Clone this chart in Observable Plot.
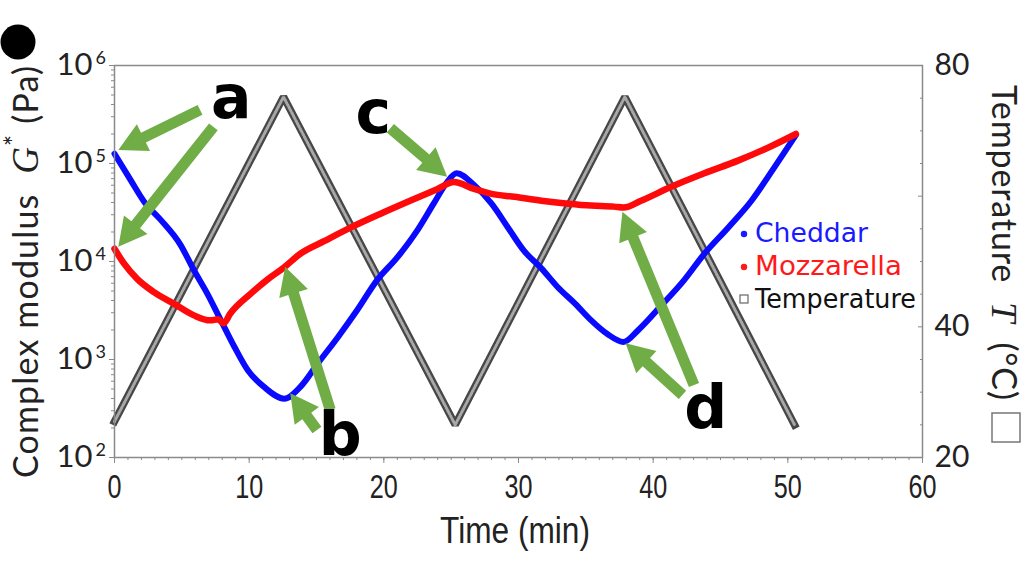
<!DOCTYPE html>
<html><head><meta charset="utf-8">
<script src="https://cdn.jsdelivr.net/npm/d3@7"></script>
<script src="https://cdn.jsdelivr.net/npm/@observablehq/plot@0.6"></script>
<style>body{margin:0;background:#fff} svg{display:block}</style>
</head><body><div id="chart"></div>
<script>
// ---- data ----
const cheddarTime = [0, 1.2, 2.2, 3.4, 4.9, 5.9, 6.9, 7.9, 8.9, 9.9, 11.1, 12.6, 13.8, 15.1, 16.6, 18.0, 19.5, 21.0, 22.5, 23.7, 24.7, 25.4, 26.7, 28.0, 29.2, 30.4, 31.7, 32.9, 34.2, 35.4, 36.6, 37.8, 38.9, 40.6, 42.3, 43.8, 45.6, 47.3, 49.0, 50.6];
const cheddarG = [125900, 67600, 40700, 26900, 14800, 8130, 4680, 2510, 1350, 776, 525, 398, 525, 912, 1700, 3160, 6460, 11000, 20900, 38900, 64600, 79400, 60300, 38900, 22400, 12900, 8510, 5500, 3720, 2510, 1820, 1510, 2000, 3550, 6460, 12000, 22400, 41700, 91200, 195000];
const mozzTime = [0, 0.7, 1.7, 2.9, 4.4, 5.9, 7.1, 7.7, 8.1, 8.6, 10.1, 11.4, 12.5, 13.8, 15.6, 17.6, 19.8, 22.3, 24.0, 25.2, 26.7, 28.0, 29.7, 31.7, 33.7, 35.4, 37.1, 37.8, 39.1, 41.3, 43.8, 46.3, 48.8, 50.6];
const mozzG = [13500, 9550, 6610, 4900, 3720, 2820, 2510, 2570, 2340, 2950, 4680, 6610, 8510, 12000, 16200, 22400, 30900, 43700, 55000, 64600, 55000, 49000, 45700, 41700, 38900, 37200, 36300, 35500, 41700, 57500, 79400, 107000, 151000, 200000];
const tempTime = [0, 12.55, 25.3, 37.9, 50.5];
const tempC = [25.5, 75.2, 25, 75.2, 25];

const xTicks = [0, 10, 20, 30, 40, 50, 60];
const yTicks = [1e2, 1e3, 1e4, 1e5, 1e6];
const yTickExp = ["2", "3", "4", "5", "6"];
const tTicks = [20, 40, 60, 80];
const tMinor = [25, 30, 35, 45, 50, 55, 65, 70, 75];

const legendLabels = ["Cheddar", "Mozzarella", "Temperature"];
const legendColors = ["#1a1aff", "#ff1a1a", "#111"];

// annotations (data coords)
const arrowTailT = [6.39, 7.38, 16.06, 15.07, 20.52, 43.07, 42.21];
const arrowTailG = [3.48e5, 2.34e5, 302, 189, 2.26e5, 543, 430];
const arrowTipT  = [0.32, 0.32, 12.71, 13.09, 24.74, 37.75, 37.99];
const arrowTipG  = [1.36e5, 1.40e4, 8750, 447, 7.24e4, 3.18e4, 1445];
const letterText = ["a", "b", "c", "d"];
const letterT = [8.70, 16.80, 19.25, 43.94];
const letterG = [2.88e5, 105, 2.02e5, 198];

// ---- derived tables ----
const toG = T => 10 ** (2 + (T - 20) * 4 / 60);
const toT = g => 20 + (Math.log10(g) - 2) * 15;
const cheddar = cheddarTime.map((t, i) => ({t, g: cheddarG[i]}));
const mozz = mozzTime.map((t, i) => ({t, g: mozzG[i]}));
const temp = tempTime.map((t, i) => ({t, g: toG(tempC[i])}));
const xMinor = d3.range(0, 61, 1);
const yMinor = [];
for (let e = 2; e < 6; e++) for (let m = 2; m <= 9; m++) yMinor.push(m * 10 ** e);

const axisColor = "#8a8a8a";
const tickFont = "Lato, 'Open Sans', sans-serif";
const condFont = "'Liberation Sans', Arimo, sans-serif";

const chart = Plot.plot({
  width: 1024, height: 576,
  marginLeft: 114, marginRight: 102, marginTop: 65, marginBottom: 119,
  style: {fontFamily: tickFont, background: "white", overflow: "visible"},
  x: {domain: [0, 60]},
  y: {type: "log", domain: [1e2, 1e6]},
  marks: [
    // temperature (dense open squares look)
    Plot.line(temp, {x: "t", y: "g", stroke: "#474747", strokeWidth: 7.5, strokeLinejoin: "miter", strokeLinecap: "square"}),
    Plot.line(temp, {x: "t", y: "g", stroke: "#a8a8a8", strokeWidth: 3, strokeDasharray: "1.2,1.8", strokeLinejoin: "miter"}),
    Plot.line(cheddar, {x: "t", y: "g", stroke: "#0a0aff", strokeWidth: 6, curve: "monotone-x", strokeLinecap: "round"}),
    Plot.line(mozz, {x: "t", y: "g", stroke: "#ff0a0a", strokeWidth: 6.5, curve: "monotone-x", strokeLinecap: "round"}),
    Plot.frame({stroke: axisColor, strokeWidth: 1.5}),
    // x axis
    Plot.axisX(xMinor, {tickSize: 3, text: null, stroke: axisColor, label: null}),
    Plot.axisX(xTicks, {tickSize: 6, tickPadding: 10, stroke: axisColor, fontSize: 34, fontFamily: condFont, fill: "#222", label: null}),
    // left axis
    Plot.axisY(yMinor, {tickSize: 3, text: null, stroke: axisColor, label: null}),
    Plot.axisY(yTicks, {tickSize: 5, text: null, stroke: axisColor, label: null}),
    Plot.text(yTicks, {y: d => d, text: () => "10", frameAnchor: "left", dx: -22, textAnchor: "end", fontSize: 31, fill: "#222"}),
    Plot.text(yTicks, {y: d => d, text: (d, i) => yTickExp[i], frameAnchor: "left", dx: -19, dy: -2, textAnchor: "start", lineAnchor: "bottom", fontSize: 18, fill: "#222"}),
    // right axis (temperature)
    Plot.axisY(tMinor.map(toG), {anchor: "right", tickSize: -3, text: null, stroke: axisColor, label: null}),
    Plot.axisY(tTicks.map(toG), {anchor: "right", tickSize: -5, text: null, stroke: axisColor, label: null}),
    Plot.axisY(tTicks.map(toG), {anchor: "right", tickSize: 0, tickPadding: 12, tickFormat: g => Math.round(toT(g)), fontSize: 30, fill: "#222", label: null})
  ]
});
document.getElementById("chart").appendChild(chart);

// condensed look for x tick labels
d3.select(chart).selectAll('[aria-label="x-axis tick label"] text').each(function () {
  const w = this.getComputedTextLength();
  this.setAttribute("textLength", w * 0.74);
  this.setAttribute("lengthAdjust", "spacingAndGlyphs");
});

// ---- annotations through the plot's scales ----
const sx = chart.scale("x"), sy = chart.scale("y");
const X = v => sx.apply(v), Y = v => sy.apply(v);
const svg = d3.select(chart);
const green = "#70ad47";
const ann = svg.append("g");
function arrowPath(x1, y1, x2, y2) {
  const w = 5.5, hw = 15, hl = 28;
  const dx = x2 - x1, dy = y2 - y1, L = Math.hypot(dx, dy);
  const ux = dx / L, uy = dy / L, nx = -uy, ny = ux;
  const bx = x2 - ux * hl, by = y2 - uy * hl;
  const p = [[x1 + nx * w, y1 + ny * w], [bx + nx * w, by + ny * w], [bx + nx * hw, by + ny * hw], [x2, y2],
             [bx - nx * hw, by - ny * hw], [bx - nx * w, by - ny * w], [x1 - nx * w, y1 - ny * w]];
  return "M" + p.map(q => q.join(",")).join("L") + "Z";
}
arrowTailT.forEach((t, i) => {
  ann.append("path").attr("d", arrowPath(X(t), Y(arrowTailG[i]), X(arrowTipT[i]), Y(arrowTipG[i]))).attr("fill", green);
});
letterText.forEach((s, i) => {
  ann.append("text").attr("x", X(letterT[i])).attr("y", Y(letterG[i])).attr("text-anchor", "middle")
    .attr("font-family", "'DejaVu Sans', sans-serif").attr("font-weight", "bold").attr("font-size", 60).attr("fill", "#000").text(s);
});

// legend
const lg = svg.append("g").attr("font-family", "'DejaVu Sans', sans-serif").attr("font-size", 26).attr("text-anchor", "start");
legendLabels.forEach((s, i) => {
  const by = 242 + i * 33;
  if (i < 2) lg.append("circle").attr("cx", 744).attr("cy", by - 8).attr("r", 3.2).attr("fill", legendColors[i]);
  else lg.append("rect").attr("x", 740).attr("y", by - 13).attr("width", 8).attr("height", 8).attr("fill", "none").attr("stroke", "#666").attr("stroke-width", 1.2);
  lg.append("text").attr("x", 755).attr("y", by).attr("fill", legendColors[i]).attr("text-anchor", "start")
    .attr("textLength", [113, 147, 161][i]).attr("lengthAdjust", "spacingAndGlyphs").text(s);
});

// axis titles
const tt = svg.append("g").attr("fill", "#222");
tt.append("text").attr("x", 515).attr("y", 543).attr("text-anchor", "middle").attr("font-family", condFont).attr("font-size", 36)
  .attr("textLength", 150).attr("lengthAdjust", "spacingAndGlyphs").text("Time (min)");
const lt = tt.append("text").attr("transform", "translate(38,478) rotate(-90)").attr("text-anchor", "start").attr("font-family", tickFont).attr("font-size", 34)
  .attr("textLength", 412).attr("lengthAdjust", "spacing");
lt.append("tspan").text("Complex modulus  ");
lt.append("tspan").attr("font-family", "'Liberation Serif', serif").attr("font-style", "italic").attr("font-size", 37).text("G");
lt.append("tspan").attr("dy", -14).attr("font-size", 26).text("*");
lt.append("tspan").attr("dy", 14).text(" (Pa)");
tt.append("circle").attr("cx", 18).attr("cy", 42).attr("r", 17.5).attr("fill", "#000");
const rt = tt.append("text").attr("transform", "translate(992,85) rotate(90)").attr("text-anchor", "start").attr("font-family", tickFont).attr("font-size", 34)
  .attr("textLength", 315).attr("lengthAdjust", "spacing");
rt.append("tspan").text("Temperature  ");
rt.append("tspan").attr("font-family", "'Liberation Serif', serif").attr("font-style", "italic").attr("font-size", 36).text("T");
rt.append("tspan").text("  (°C)");
tt.append("rect").attr("x", 992).attr("y", 413).attr("width", 28).attr("height", 29).attr("fill", "none").attr("stroke", "#777").attr("stroke-width", 1.5);
</script>
</body></html>
